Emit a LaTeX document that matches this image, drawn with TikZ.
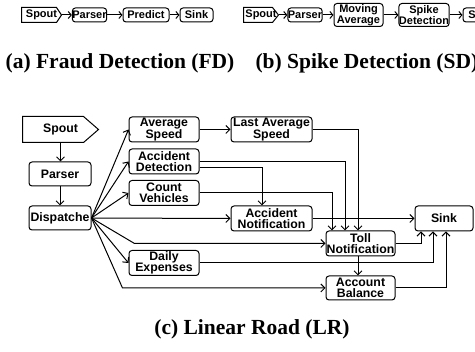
\documentclass[tikz,border=0pt]{standalone}
\usepackage{fontspec}
\setmainfont{Liberation Serif}
\newfontfamily\boxfont{Liberation Sans}
\usetikzlibrary{arrows.meta}

\begin{document}
\begin{tikzpicture}[x=1pt, y=-1pt,
    blk/.style={draw, line width=1pt, rounded corners=3pt, inner sep=0pt, align=center,
      font={\boxfont\bfseries\fontsize{12.3}{11.5}\selectfont}},
    sblk/.style={blk, font={\boxfont\bfseries\fontsize{11}{9.5}\selectfont}},
    lin/.style={line width=1pt},
    arr/.style={lin, -{Straight Barb[length=4pt,width=8pt]}},
    sarr/.style={lin, -{Straight Barb[length=3pt,width=7pt]}},
    subcap/.style={font={\bfseries\fontsize{21.5}{24}\selectfont}}]
  \clip (0,0) rectangle (475,352);

  % (a) fraud detection
  \node[sblk, draw=none, minimum width=39pt, minimum height=14pt] (spa) at (41.5,15) {Spout};
  \node[sblk, minimum width=33pt, minimum height=14pt] (paa) at (89.5,15) {Parser};
  \node[sblk, minimum width=46pt, minimum height=14pt] (pra) at (146,15) {Predict};
  \node[sblk, minimum width=33pt, minimum height=14pt] (ska) at (196.5,15) {Sink};
  \draw[sarr] (spa) -- (paa);
  \draw[sarr] (paa) -- (pra);
  \draw[sarr] (pra) -- (ska);
  \node[subcap] (capa) at (120,63) {(a) Fraud Detection (FD)};

  % (b) spike detection
  \node[sblk, draw=none, minimum width=34pt, minimum height=14pt] (spb) at (261,15) {Spout};
  \node[sblk, minimum width=34pt, minimum height=14pt] (pab) at (305,15) {Parser};
  \node[sblk, minimum width=49pt, minimum height=23pt] (mvb) at (358.5,15) {Moving\\Average};
  \node[sblk, minimum width=46pt, minimum height=23pt] (spkb) at (424,15) {Spike\\Detection};
  \node[sblk, minimum width=34pt, minimum height=14pt] (skb) at (480,15) {Sink};
  \draw[sarr] (spb) -- (pab);
  \draw[sarr] (pab) -- (mvb);
  \draw[sarr] (mvb) -- (spkb);
  \draw[sarr] (spkb) -- (skb);
  \node[subcap, anchor=west] (capb) at (252,63) {(b) Spike Detection (SD)};

  % (c) linear road
  \node[blk, draw=none, minimum width=75pt, minimum height=25pt] (spc) at (60.5,129.5) {Spout};
  \node[blk, minimum width=62pt, minimum height=24pt] (par) at (60,174) {Parser};
  \node[blk, minimum width=62pt, minimum height=24pt] (dis) at (60,218) {Dispatche};
  \node[blk, minimum width=70pt, minimum height=25pt] (avg) at (164,129.5) {Average\\Speed};
  \node[blk, minimum width=70pt, minimum height=25pt] (acd) at (164,161.5) {Accident\\Detection};
  \node[blk, minimum width=70pt, minimum height=25pt] (cnt) at (164,193) {Count\\Vehicles};
  \node[blk, minimum width=70pt, minimum height=25pt] (dly) at (164,263) {Daily\\Expenses};
  \node[blk, minimum width=81pt, minimum height=25pt] (las) at (271.5,129.5) {Last Average\\Speed};
  \node[blk, minimum width=81pt, minimum height=25pt] (acn) at (271.5,218.5) {Accident\\Notification};
  \node[blk, minimum width=69pt, minimum height=25pt] (tol) at (360.5,243.5) {Toll\\Notification};
  \node[blk, minimum width=69pt, minimum height=24pt] (acb) at (360.5,288) {Account\\Balance};
  \node[blk, minimum width=58pt, minimum height=25pt] (snk) at (444,218.5) {Sink};

  \foreach \n/\t in {spa/5, spb/6, spc/15}
    \draw[lin] (\n.north west) -- ([xshift=-\t pt]\n.north east) -- (\n.east)
      -- ([xshift=-\t pt]\n.south east) -- (\n.south west) -- cycle;

  \draw[arr] (spc.south) -- (spc.south |- par.north);
  \draw[arr] (par) -- (dis);
  \draw[arr] (dis.east) -- (avg.west);
  \draw[arr] (dis.east) -- (acd.west);
  \draw[arr] (dis.east) -- (cnt.west);
  \draw[arr] (dis.east) -- (acn.west);
  \draw[arr] (dis.east) -- ([xshift=6pt]acd.west |- tol.west) -- (tol.west);
  \draw[arr] (dis.east) -- (dly.west);
  \draw[arr] (dis.east) -- ([xshift=-6pt]acd.west |- acb.west) -- (acb.west);
  \draw[arr] (avg) -- (las);
  \draw[arr] (las.east) -| ([xshift=-2.5pt]tol.north);
  \draw[arr] (acd.east) -| ([xshift=-15.5pt]tol.north);
  \draw[arr] ([yshift=-6pt]acd.east) -| ([xshift=-9.5pt]acn.north);
  \draw[arr] (cnt.east) -| ([xshift=-28.5pt]tol.north);
  \draw[arr] (acn) -- (snk);
  \draw[arr] ([xshift=-2.5pt]tol.south) -- ([xshift=-2.5pt]acb.north);
  \draw[arr] (tol.east) -| ([xshift=-23pt]snk.south);
  \draw[arr] (dly.east) -| ([xshift=-11pt]snk.south);
  \draw[arr] (acb.east) -| ([xshift=2pt]snk.south);
  \node[subcap] (capc) at (252,329) {(c) Linear Road (LR)};
\end{tikzpicture}
\end{document}
